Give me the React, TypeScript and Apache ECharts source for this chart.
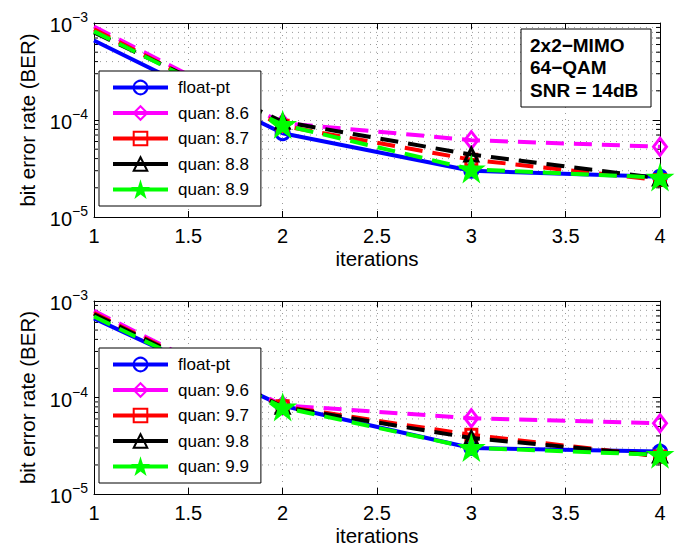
import React, { useEffect, useRef } from "react";
import * as echarts from "echarts";

const iterations = [1, 2, 3, 4];

const topNames = ["float-pt", "quan: 8.6", "quan: 8.7", "quan: 8.8", "quan: 8.9"];
const topFloat = [6.6e-4, 7.3e-5, 3.0e-5, 2.6e-5];
const top86 = [9.2e-4, 9.3e-5, 6.2e-5, 5.3e-5];
const top87 = [8.6e-4, 8.7e-5, 3.9e-5, 2.4e-5];
const top88 = [8.0e-4, 9.6e-5, 4.4e-5, 2.5e-5];
const top89 = [8.2e-4, 8.9e-5, 3.1e-5, 2.55e-5];

const botNames = ["float-pt", "quan: 9.6", "quan: 9.7", "quan: 9.8", "quan: 9.9"];
const botFloat = [6.6e-4, 8.2e-5, 3.0e-5, 2.75e-5];
const bot96 = [7.9e-4, 8.3e-5, 6.1e-5, 5.4e-5];
const bot97 = [7.5e-4, 8.1e-5, 4.1e-5, 2.45e-5];
const bot98 = [7.3e-4, 8.0e-5, 3.8e-5, 2.5e-5];
const bot99 = [6.9e-4, 7.9e-5, 3.0e-5, 2.55e-5];

const minorY = [2e-5, 3e-5, 4e-5, 5e-5, 6e-5, 7e-5, 8e-5, 9e-5, 2e-4, 3e-4, 4e-4, 5e-4, 6e-4, 7e-4, 8e-4, 9e-4];

const infoLines = ["2x2\u2212MIMO", "64\u2212QAM", "SNR = 14dB"];

const FONT = "Liberation Sans, Arial, Helvetica, sans-serif";
const STAR = "path://M50,0 L61.2,34.5 L97.6,34.5 L68.2,55.9 L79.4,90.5 L50,69.1 L20.6,90.5 L31.8,55.9 L2.4,34.5 L38.8,34.5 Z";

const styles = [
  { color: "#0000ff", symbol: "circle", size: 13, dash: "solid", fill: "rgba(0,0,0,0)" },
  { color: "#ff00ff", symbol: "diamond", size: [13, 17], dash: [18, 10], fill: "rgba(0,0,0,0)" },
  { color: "#ff0000", symbol: "rect", size: 11, dash: [18, 10], fill: "rgba(0,0,0,0)" },
  { color: "#000000", symbol: "triangle", size: 13, dash: [18, 10], fill: "rgba(0,0,0,0)" },
  { color: "#00ff00", symbol: STAR, size: 20, dash: [18, 10], fill: "#00ff00" },
];

export default function App() {
  const ref = useRef<HTMLDivElement>(null);
  useEffect(() => {
    if (!ref.current) return;
    const chart = echarts.init(ref.current, null, { renderer: "svg" });

    const grids = [
      { left: 94, top: 23, width: 566, height: 194 },
      { left: 94, top: 301, width: 566, height: 193 },
    ];

    const xAxes: any[] = [];
    const yAxes: any[] = [];
    [0, 1].forEach((g) => {
      xAxes.push({
        type: "value",
        gridIndex: g,
        min: 1,
        max: 4,
        interval: 0.5,
        position: "bottom",
        name: "iterations",
        nameLocation: "middle",
        nameGap: 31,
        nameTextStyle: { fontFamily: FONT, fontSize: 20.5, color: "#000" },
        axisLine: { show: true, lineStyle: { color: "#000", width: 1 } },
        axisTick: { show: true, inside: true, length: 6, lineStyle: { color: "#000" } },
        axisLabel: { fontFamily: FONT, fontSize: 20, color: "#000", margin: 9, formatter: (v: number) => String(v) },
        splitLine: { show: true, lineStyle: { color: "#999", width: 1, type: [1, 5] } },
      });
      xAxes.push({
        type: "value",
        gridIndex: g,
        min: 1,
        max: 4,
        interval: 0.5,
        position: "top",
        axisLine: { show: true, lineStyle: { color: "#000", width: 1 } },
        axisTick: { show: true, inside: true, length: 6, lineStyle: { color: "#000" } },
        axisLabel: { show: false },
        splitLine: { show: false },
      });
      yAxes.push({
        type: "log",
        logBase: 10,
        gridIndex: g,
        min: 1e-5,
        max: 1e-3,
        position: "left",
        name: "bit error rate (BER)",
        nameLocation: "middle",
        nameGap: 56,
        nameTextStyle: { fontFamily: FONT, fontSize: 20.5, color: "#000" },
        axisLine: { show: true, lineStyle: { color: "#000", width: 1 } },
        axisTick: { show: true, inside: true, length: 7, lineStyle: { color: "#000" } },
        axisLabel: {
          fontFamily: FONT,
          color: "#000",
          margin: 6,
          formatter: (v: number) => {
            const e = Math.round(Math.log10(v));
            return "{b|10}{s|\u2212" + String(-e) + "}";
          },
          rich: {
            b: { fontFamily: FONT, fontSize: 20, color: "#000", padding: [4, 0, 0, 0] },
            s: { fontFamily: FONT, fontSize: 14, color: "#000", padding: [0, 0, 12, 0] },
          },
        },
        splitLine: { show: true, lineStyle: { color: "#999", width: 1, type: [1, 5] } },
      });
      yAxes.push({
        type: "log",
        logBase: 10,
        gridIndex: g,
        min: 1e-5,
        max: 1e-3,
        position: "right",
        axisLine: { show: true, lineStyle: { color: "#000", width: 1 } },
        axisTick: { show: true, inside: true, length: 7, lineStyle: { color: "#000" } },
        axisLabel: { show: false },
        splitLine: { show: false },
      });
    });

    const series: any[] = [];
    [0, 1].forEach((g) => {
      series.push({
        type: "custom",
        xAxisIndex: g * 2,
        yAxisIndex: g * 2,
        silent: true,
        z: 1,
        data: minorY.map((v) => [1, v]),
        renderItem: (params: any, api: any) => {
          const v = api.value(1);
          const p1 = api.coord([1, v]);
          const p2 = api.coord([4, v]);
          return {
            type: "group",
            children: [
              { type: "line", shape: { x1: p1[0], y1: p1[1], x2: p2[0], y2: p2[1] }, style: { stroke: "#999", lineWidth: 1, lineDash: [1, 5] } },
              { type: "line", shape: { x1: p1[0], y1: p1[1], x2: p1[0] + 4, y2: p1[1] }, style: { stroke: "#000", lineWidth: 1 } },
              { type: "line", shape: { x1: p2[0] - 4, y1: p2[1], x2: p2[0], y2: p2[1] }, style: { stroke: "#000", lineWidth: 1 } },
            ],
          };
        },
      });
    });

    const sets = [
      { names: topNames, data: [topFloat, top86, top87, top88, top89] },
      { names: botNames, data: [botFloat, bot96, bot97, bot98, bot99] },
    ];
    sets.forEach((s, g) => {
      s.data.forEach((vals, i) => {
        const st = styles[i];
        series.push({
          type: "line",
          name: s.names[i],
          xAxisIndex: g * 2,
          yAxisIndex: g * 2,
          z: 3 + i,
          data: iterations.map((x, k) =>
            k === 0 ? { value: [x, vals[k]], symbol: "none" } : { value: [x, vals[k]] }
          ),
          symbol: st.symbol,
          symbolSize: st.size,
          showAllSymbol: true,
          lineStyle: { color: st.color, width: 4, type: st.dash },
          itemStyle: { color: st.fill, borderColor: st.color, borderWidth: 3 },
        });
      });
    });

    const legends = [0, 1].map((g) => ({
      data: sets[g].names,
      orient: "vertical",
      left: 99,
      top: g === 0 ? 71 : 348,
      z: 30,
      backgroundColor: "#fff",
      borderColor: "#000",
      borderWidth: 1,
      borderRadius: 0,
      padding: [8, 12, 8, 12],
      itemWidth: 55,
      itemHeight: 17,
      itemGap: 8.5,
      selectedMode: false,
      lineStyle: { type: "solid", width: 4 },
      textStyle: { fontFamily: FONT, fontSize: 17, color: "#000", padding: [0, 0, 0, 5] },
    }));

    chart.setOption({
      animation: false,
      backgroundColor: "#fff",
      grid: grids,
      xAxis: xAxes,
      yAxis: yAxes,
      legend: legends,
      series,
      graphic: [
        {
          type: "rect",
          shape: { x: 521, y: 29, width: 130, height: 78 },
          style: { fill: "#fff", stroke: "#000", lineWidth: 1 },
          z: 100,
        },
        {
          type: "text",
          x: 530,
          y: 34,
          z: 101,
          style: {
            text: infoLines.join("\n"),
            font: "bold 19px " + FONT,
            fill: "#000",
            lineHeight: 22.5,
          },
        },
      ],
    });
    return () => chart.dispose();
  }, []);
  return <div ref={ref} style={{ position: "fixed", left: 0, top: 0, width: 682, height: 548 }} />;
}
